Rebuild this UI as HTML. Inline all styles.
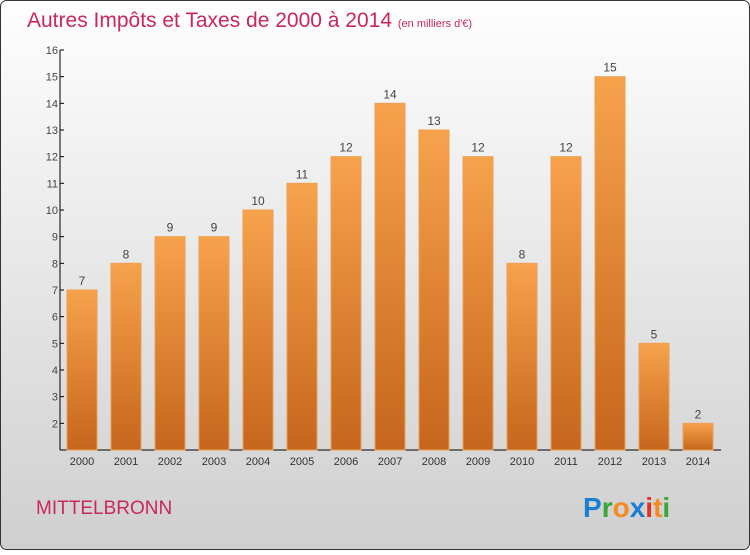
<!DOCTYPE html>
<html><head><meta charset="utf-8"><style>
body{margin:0;width:750px;height:550px;overflow:hidden;font-family:"Liberation Sans",sans-serif}
</style></head><body>
<svg width="750" height="550" xmlns="http://www.w3.org/2000/svg">
<defs>
<linearGradient id="bg" x1="0" y1="0" x2="0" y2="1"><stop offset="0" stop-color="#fefefe"/><stop offset="1" stop-color="#cfcfcf"/></linearGradient>
<linearGradient id="bar" x1="0" y1="0" x2="0" y2="1"><stop offset="0" stop-color="#f7a24c"/><stop offset="1" stop-color="#c5661c"/></linearGradient>
</defs>
<rect x="0.5" y="0.5" width="749" height="549" rx="6" fill="url(#bg)" stroke="#333"/>
<text x="27" y="27" font-size="21" fill="#c8285a">Autres Impôts et Taxes de 2000 à 2014 <tspan font-size="11">(en milliers d'€)</tspan></text>
<g id="plot"></g>
<text x="36" y="514" font-size="19" fill="#c8285a">MITTELBRONN</text>
<g font-size="28" font-weight="bold" font-family="'Liberation Sans',sans-serif">
<text x="583" y="517"><tspan fill="#1a7fd4">P</tspan><tspan fill="#3aa63a">r</tspan><tspan fill="#f58a1e">o</tspan><tspan fill="#1a7fd4">x</tspan><tspan fill="#e03020">i</tspan><tspan fill="#f58a1e">t</tspan><tspan fill="#3aa63a">i</tspan></text>
</g>
</svg>
<script>
const years=["2000","2001","2002","2003","2004","2005","2006","2007","2008","2009","2010","2011","2012","2013","2014"];
const values=[7,8,9,9,10,11,12,14,13,12,8,12,15,5,2];
const yTicks=[1,2,3,4,5,6,7,8,9,10,11,12,13,14,15,16];
const NS="http://www.w3.org/2000/svg";
const g=document.getElementById('plot');
const y=v=>450-(v-1)*(400/15);
const x=i=>82+i*44;
function mk(t,a){const e=document.createElementNS(NS,t);for(const k in a)e.setAttribute(k,a[k]);g.appendChild(e);return e;}
const ya=mk('line',{x1:60,y1:50,x2:60,y2:450,stroke:'#000'});


const xa=mk('line',{x1:60,y1:450,x2:721,y2:450,stroke:'#000'});


yTicks.forEach(t=>{
 if(t===1)return;
 const l=mk('line',{x1:60,y1:y(t),x2:64,y2:y(t),stroke:'#000'});
 
 
 const tx=mk('text',{x:58,y:y(t)+4,'font-size':11,fill:'#444','text-anchor':'end'});
 tx.textContent=t;
 
 
});
values.forEach((v,i)=>{
 const r=mk('rect',{x:x(i)-15,y:y(v),width:30,height:450-y(v),fill:'url(#bar)',stroke:'#f0a050','stroke-width':1});
 
 
 const lt=mk('text',{x:x(i),y:y(v)-5,'font-size':12,fill:'#444','text-anchor':'middle'});
 lt.textContent=v;
 
 
 const xt=mk('text',{x:x(i),y:465,'font-size':11,fill:'#333','text-anchor':'middle'});
 xt.textContent=years[i];
 
 
});
</script>
</body></html>
